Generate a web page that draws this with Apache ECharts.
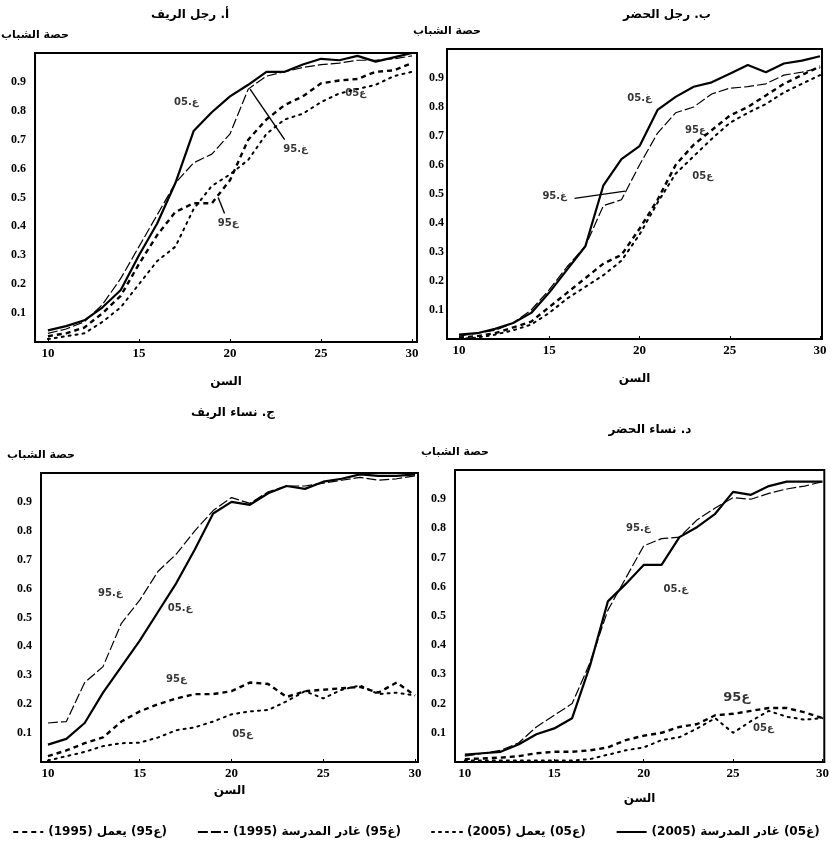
<!DOCTYPE html>
<html><head><meta charset="utf-8">
<script src="https://cdn.jsdelivr.net/npm/echarts@6/dist/echarts.min.js"></script>
<style>html,body{margin:0;padding:0;background:#fff}#c{width:832px;height:851px}</style>
</head><body><div id="c"></div>
<script>
// ---------- data ----------
const ages = [10,11,12,13,14,15,16,17,18,19,20,21,22,23,24,25,26,27,28,29,30];
const xTicks = [10,15,20,25,30];
const yTicks = [0.1,0.2,0.3,0.4,0.5,0.6,0.7,0.8,0.9];
const panelTitles = ['أ. رجل الريف','ب. رجل الحضر','ج. نساء الريف','د. نساء الحضر'];
const yName = 'حصة الشباب';
const xName = 'السن';
const nameG05 = '(غ05) غادر المدرسة (2005)';
const nameA05 = '(ع05) يعمل (2005)';
const nameG95 = '(غ95) غادر المدرسة (1995)';
const nameA95 = '(ع95) يعمل (1995)';

// Panel A: rural men
const A_g05 = [0.04,0.055,0.075,0.12,0.18,0.30,0.41,0.55,0.73,0.795,0.85,0.89,0.935,0.935,0.96,0.98,0.975,0.99,0.97,0.985,1.0];
const A_g95 = [0.03,0.045,0.07,0.13,0.22,0.33,0.44,0.55,0.62,0.65,0.72,0.875,0.92,0.935,0.95,0.96,0.965,0.975,0.975,0.98,0.99];
const A_a95 = [0.02,0.03,0.05,0.10,0.16,0.27,0.37,0.45,0.48,0.48,0.56,0.70,0.77,0.82,0.85,0.895,0.905,0.91,0.935,0.94,0.965];
const A_a05 = [0.01,0.02,0.03,0.07,0.12,0.20,0.28,0.33,0.46,0.54,0.58,0.63,0.72,0.77,0.79,0.83,0.86,0.875,0.89,0.92,0.935];
// Panel B: urban men
const B_g05 = [0.015,0.02,0.035,0.055,0.09,0.16,0.24,0.32,0.53,0.62,0.665,0.79,0.835,0.87,0.885,0.915,0.945,0.92,0.95,0.96,0.975];
const B_g95 = [0.01,0.02,0.03,0.055,0.10,0.17,0.25,0.32,0.46,0.48,0.60,0.71,0.78,0.80,0.845,0.865,0.87,0.88,0.91,0.92,0.935];
const B_a95 = [0.005,0.01,0.02,0.04,0.06,0.11,0.16,0.21,0.26,0.29,0.38,0.48,0.60,0.67,0.72,0.77,0.80,0.84,0.88,0.91,0.94];
const B_a05 = [0.0,0.005,0.015,0.03,0.05,0.09,0.14,0.18,0.22,0.27,0.36,0.47,0.57,0.63,0.69,0.745,0.78,0.81,0.85,0.88,0.91];
// Panel C: rural women
const C_g05 = [0.06,0.08,0.135,0.24,0.33,0.42,0.52,0.62,0.735,0.86,0.90,0.89,0.93,0.955,0.945,0.97,0.98,0.995,0.99,0.99,0.995];
const C_g95 = [0.135,0.14,0.275,0.33,0.48,0.56,0.66,0.72,0.80,0.87,0.915,0.895,0.935,0.955,0.955,0.965,0.975,0.985,0.975,0.98,0.99];
const C_a95 = [0.02,0.04,0.065,0.085,0.14,0.175,0.20,0.22,0.235,0.235,0.245,0.275,0.27,0.225,0.245,0.25,0.255,0.26,0.24,0.275,0.23];
const C_a05 = [0.005,0.02,0.035,0.055,0.065,0.067,0.085,0.11,0.12,0.14,0.165,0.175,0.18,0.21,0.245,0.22,0.25,0.265,0.235,0.24,0.23];
// Panel D: urban women
const D_g05 = [0.025,0.03,0.035,0.06,0.095,0.115,0.15,0.33,0.55,0.61,0.675,0.675,0.77,0.805,0.85,0.925,0.915,0.945,0.96,0.96,0.96];
const D_g95 = [0.02,0.03,0.04,0.065,0.12,0.16,0.20,0.34,0.52,0.63,0.74,0.765,0.77,0.83,0.87,0.905,0.90,0.92,0.935,0.945,0.96];
const D_a95 = [0.01,0.012,0.015,0.02,0.03,0.035,0.035,0.04,0.05,0.075,0.09,0.10,0.12,0.13,0.16,0.165,0.175,0.185,0.185,0.17,0.15];
const D_a05 = [0.005,0.005,0.005,0.005,0.005,0.005,0.005,0.01,0.025,0.04,0.05,0.075,0.085,0.115,0.15,0.10,0.14,0.175,0.155,0.145,0.15];

// in-plot curve labels [age, share, text] and leader lines
const A_labels = [[17.6,0.83,'غ.05'],[23.6,0.665,'غ.95'],[19.9,0.41,'ع95'],[26.9,0.86,'ع05']];
const A_leaders = [[[21.1,0.875],[23.0,0.70]],[[19.35,0.50],[19.7,0.445]]];
const B_labels = [[20.0,0.83,'غ.05'],[15.3,0.49,'غ.95'],[23.1,0.72,'ع95'],[23.5,0.56,'ع05']];
const B_leaders = [[[16.4,0.485],[19.2,0.51]]];
const C_labels = [[13.4,0.585,'غ.95'],[17.2,0.53,'غ.05'],[17.0,0.285,'ع95'],[20.6,0.095,'ع05']];
const C_leaders = [];
const D_labels = [[19.7,0.80,'غ.95'],[21.8,0.59,'غ.05'],[25.2,0.22,'ع95'],[26.7,0.115,'ع05']];
const D_leaders = [];

// ---------- layout / style ----------
const rtl = s => '\u202B' + s + '\u202C';
const numFont = 'Liberation Serif, DejaVu Serif, serif';
const arFont = 'DejaVu Sans, sans-serif';
const panels = [
  {grid:{left:35,top:53,width:382,height:289}, xmin:9.29, xmax:30.27, xGap:34, data:[A_g05,A_a05,A_g95,A_a95], labels:A_labels, leaders:A_leaders, title:[190,15]},
  {grid:{left:447,top:49,width:375,height:290}, xmin:9.335, xmax:30.11, xGap:34, data:[B_g05,B_a05,B_g95,B_a95], labels:B_labels, leaders:B_leaders, title:[667,15]},
  {grid:{left:41,top:473,width:377,height:289}, xmin:9.62, xmax:30.16, xGap:23, data:[C_g05,C_a05,C_g95,C_a95], labels:C_labels, leaders:C_leaders, title:[233,413]},
  {grid:{left:455,top:470,width:373,height:292}, xmin:9.45, xmax:30.1, xGap:31, data:[D_g05,D_a05,D_g95,D_a95], labels:D_labels, leaders:D_leaders, title:[650,430]}
];
const names = [nameG05, nameA05, nameG95, nameA95];
const lineStyles = [
  {color:'#000', width:2.2, type:'solid'},
  {color:'#000', width:2, type:[2,5], cap:'round'},
  {color:'#000', width:1.2, type:[10,3]},
  {color:'#000', width:2.4, type:[5,4]}
];

const grids=[], xAxes=[], yAxes=[], series=[], graphics=[];
panels.forEach((p,i)=>{
  grids.push(Object.assign({show:true, borderColor:'#000', borderWidth:2, backgroundColor:'#fff'}, p.grid));
  xAxes.push({type:'value', gridIndex:i, min:p.xmin, max:p.xmax,
    name:rtl(xName), nameLocation:'middle', nameGap:p.xGap,
    nameTextStyle:{fontFamily:arFont, fontWeight:'bold', fontSize:12, color:'#000'},
    axisLine:{show:true, lineStyle:{color:'#000', width:2}},
    axisTick:{show:true, inside:true, length:3, customValues:xTicks, lineStyle:{color:'#000'}},
    axisLabel:{customValues:xTicks, color:'#000', fontFamily:numFont, fontWeight:'bold', fontSize:13, margin:5},
    splitLine:{show:false}});
  yAxes.push({type:'value', gridIndex:i, min:0, max:1,
    name:rtl(yName), nameLocation:'end', nameGap:12,
    nameTextStyle:{fontFamily:arFont, fontWeight:'bold', fontSize:11, color:'#000', align:'center'},
    axisLine:{show:true, lineStyle:{color:'#000', width:2}},
    axisTick:{show:false},
    axisLabel:{customValues:yTicks, formatter:v=>v.toFixed(1), color:'#000', fontFamily:numFont, fontWeight:'bold', fontSize:12, margin:i===1?3:9},
    splitLine:{show:false}});
  p.data.forEach((arr,k)=>{
    series.push({type:'line', name:names[k], xAxisIndex:i, yAxisIndex:i, symbol:'none', showSymbol:false, smooth:false,
      lineStyle:lineStyles[k], itemStyle:{color:'#000'},
      data:ages.map((a,j)=>[a,arr[j]]), z:3});
  });
  series.push({type:'scatter', name:'labels'+i, xAxisIndex:i, yAxisIndex:i, symbolSize:0, silent:true,
    data:p.labels.map(l=>({value:[l[0],l[1]], txt:l[2], big: (i===3 && l[2]==='ع95')})),
    label:{show:true, position:'inside', color:'#000', fontFamily:arFont, fontWeight:'bold',
      fontSize:10, formatter:q=>rtl(q.data.txt)},
    markLine:{silent:true, symbol:'none', label:{show:false}, lineStyle:{color:'#000', width:1.4, type:'solid'},
      data:p.leaders.map(s=>[{coord:s[0]},{coord:s[1]}])},
    z:4});
  graphics.push({type:'text', x:p.title[0], y:p.title[1],
    style:{text:rtl(panelTitles[i]), align:'center', verticalAlign:'middle', fill:'#000',
      font:'bold 12px DejaVu Sans, sans-serif'}});
});
series[series.length-1].data.forEach(d=>{ if(d.big){ d.label={fontSize:13}; } });

const chart = echarts.init(document.getElementById('c'), null, {renderer:'canvas'});
chart.setOption({
  backgroundColor:'#fff',
  animation:false,
  grid:grids, xAxis:xAxes, yAxis:yAxes, series:series, graphic:graphics,
  legend:{data:[nameA95, nameG95, nameA05, nameG05], top:821, left:'center', itemGap:30, itemWidth:30, itemHeight:10,
    itemStyle:{opacity:0},
    formatter:n=>rtl(n), textStyle:{fontFamily:arFont, fontWeight:'bold', fontSize:12, color:'#000'}}
});
</script></body></html>
